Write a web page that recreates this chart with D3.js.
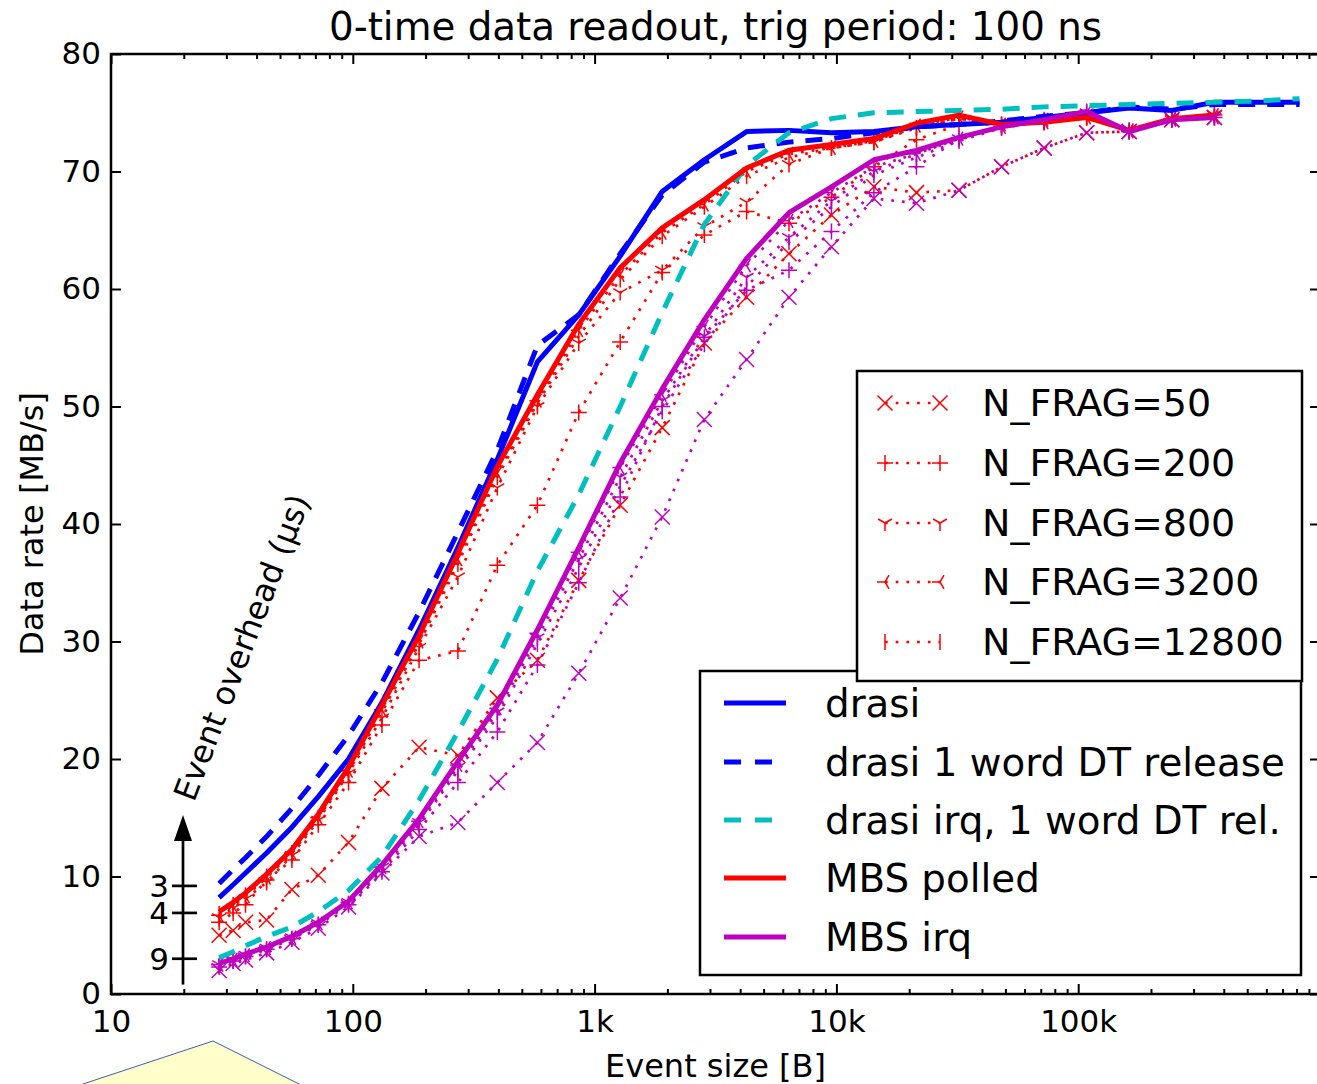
<!DOCTYPE html>
<html><head><meta charset="utf-8">
<script src="https://cdn.jsdelivr.net/npm/d3@7"></script>
<style>body{margin:0;background:#fff}</style>
</head><body><svg id="c" width="1317" height="1084"></svg>
<script>
// ---------------- data ----------------
const eventSize = [28, 32, 36, 44, 56, 72, 96, 132, 188, 272, 396, 580, 860, 1276, 1904, 2844, 4252, 6368, 9540, 14296, 21432, 32136, 48192, 72276, 108404, 162592, 243876, 365804];
const eventSizeDrasi = [28, 32, 36, 44, 56, 72, 96, 132, 188, 272, 396, 580, 860, 1276, 1904, 2844, 4252, 6368, 9540, 14296, 21432, 32136, 48192, 72276, 108404, 162592, 243876, 365804, 548700, 823000];

const drasi       = [8.2, 9.3, 10.3, 12.0, 14.2, 16.8, 20.0, 24.8, 31.0, 38.0, 45.5, 53.8, 57.8, 62.8, 68.3, 71.0, 73.4, 73.5, 73.3, 73.4, 73.8, 74.0, 74.2, 74.6, 75.0, 75.4, 75.2, 75.9, 75.9, 75.9];
const drasiDT     = [9.4, 10.6, 11.6, 13.4, 15.8, 18.6, 22.0, 26.5, 32.5, 39.3, 46.3, 55.2, 57.8, 63.0, 68.0, 70.8, 72.0, 72.5, 72.8, 73.3, 73.8, 74.0, 74.3, 74.7, 75.0, 75.5, 75.3, 75.7, 75.7, 75.7];
const drasiIrqDT  = [3.1, 3.6, 4.1, 4.9, 5.7, 7.0, 8.8, 11.7, 16.5, 22.3, 28.5, 36.0, 42.5, 50.0, 58.0, 65.5, 70.5, 73.3, 74.5, 75.0, 75.1, 75.2, 75.3, 75.5, 75.6, 75.7, 75.8, 75.9, 76.0, 76.2];
const mbsPolled   = [7.0, 7.8, 8.6, 10.2, 12.3, 15.3, 19.3, 24.6, 30.5, 37.5, 44.9, 51.0, 57.0, 61.8, 65.2, 67.6, 70.3, 71.8, 72.3, 72.8, 74.1, 74.8, 74.0, 74.2, 74.6, 73.5, 74.5, 74.8];
const mbsIrq      = [2.6, 3.0, 3.4, 4.0, 4.9, 6.1, 7.9, 11.0, 14.9, 19.8, 24.6, 31.0, 38.0, 45.2, 51.5, 57.4, 62.6, 66.5, 68.7, 71.0, 71.8, 72.9, 73.8, 74.4, 75.1, 73.4, 74.4, 74.6];

// MBS polled with N_FRAG (red dotted)
const polledN50    = [5.0, 5.4, 6.1, 6.3, 8.9, 10.1, 12.9, 17.5, 21.0, 20.3, 25.2, 28.4, 35.2, 41.6, 48.2, 55.4, 59.3, 63.0, 66.3, 68.7, 68.2, 68.4, 70.4, 72.0, 73.3, 73.4, 74.4, 74.6];
const polledN200   = [6.1, 6.9, 7.6, 9.7, 11.4, 14.4, 18.0, 22.9, 28.4, 29.2, 36.5, 41.6, 49.5, 55.5, 61.4, 64.6, 66.6, 65.6, 67.8, 70.4, 72.7, 74.0, 74.0, 74.2, 74.6, 73.5, 74.5, 74.8];
const polledN800   = [6.5, 7.3, 8.1, 9.5, 11.8, 14.8, 18.8, 23.5, 29.5, 35.5, 43.1, 50.0, 55.4, 59.7, 61.6, 65.3, 67.4, 70.6, 72.0, 72.5, 73.8, 74.5, 74.0, 74.2, 74.6, 73.5, 74.5, 74.8];
const polledN3200  = [6.7, 7.5, 8.3, 9.9, 12.0, 15.0, 19.0, 24.2, 30.0, 37.0, 44.3, 50.5, 56.5, 61.2, 64.8, 67.2, 70.0, 71.5, 72.0, 72.6, 73.9, 74.6, 74.0, 74.2, 74.6, 73.5, 74.5, 74.8];
const polledN12800 = [6.8, 7.6, 8.4, 10.0, 12.0, 15.0, 18.9, 24.0, 29.8, 36.6, 44.0, 50.3, 56.0, 60.8, 64.5, 67.0, 69.6, 71.2, 72.0, 72.5, 73.7, 74.5, 74.0, 74.2, 74.6, 73.5, 74.5, 74.8];

// MBS irq with N_FRAG (magenta dotted)
const irqN50    = [2.0, 2.6, 2.9, 3.5, 4.4, 5.6, 7.4, 10.3, 13.4, 14.6, 18.0, 21.4, 27.3, 33.7, 40.6, 48.9, 54.0, 59.3, 63.6, 67.7, 67.3, 68.4, 70.4, 72.0, 73.3, 73.4, 74.4, 74.6];
const irqN200   = [2.3, 2.8, 3.2, 3.8, 4.7, 5.9, 7.6, 10.4, 14.0, 18.0, 22.3, 28.0, 35.0, 42.3, 50.0, 55.9, 59.9, 61.6, 64.9, 68.2, 70.4, 72.8, 73.8, 74.4, 75.1, 73.4, 74.4, 74.6];
const irqN800   = [2.5, 2.9, 3.3, 3.9, 4.8, 6.0, 7.8, 10.8, 14.6, 19.3, 24.0, 30.3, 37.0, 44.0, 50.5, 56.0, 61.0, 64.4, 67.5, 70.0, 71.5, 72.8, 73.8, 74.4, 75.0, 73.4, 74.4, 74.6];
const irqN3200  = [2.5, 2.9, 3.3, 3.9, 4.8, 6.0, 7.8, 10.8, 14.7, 19.5, 24.3, 30.7, 37.6, 44.8, 51.0, 56.8, 62.0, 65.8, 68.2, 70.4, 71.5, 72.8, 73.8, 74.4, 75.0, 73.4, 74.4, 74.6];
const irqN12800 = [2.4, 2.8, 3.2, 3.8, 4.7, 5.9, 7.7, 10.6, 14.4, 19.0, 23.6, 29.8, 36.3, 43.2, 49.6, 55.3, 60.2, 64.0, 67.0, 69.7, 71.2, 72.6, 73.7, 74.3, 75.0, 73.4, 74.4, 74.6];

const fragLabels  = ["N_FRAG=50", "N_FRAG=200", "N_FRAG=800", "N_FRAG=3200", "N_FRAG=12800"];
const fragMarkers = ["x", "plus", "tri_down", "tri_left", "vline"];
const mainLabels  = ["drasi", "drasi 1 word DT release", "drasi irq, 1 word DT rel.", "MBS polled", "MBS irq"];

const xTickValues = [10, 100, 1000, 10000, 100000];
const xTickLabels = ["10", "100", "1k", "10k", "100k"];
const yTickValues = [0, 10, 20, 30, 40, 50, 60, 70, 80];
const overheadTicks = [3, 4, 9];
const overheadTickRates = [9.2, 6.9, 3.0];

const titleText = "0-time data readout, trig period: 100 ns";
const xLabelText = "Event size [B]";
const yLabelText = "Data rate [MB/s]";

// ---------------- drawing ----------------
const FONT = "DejaVu Sans";
const C = {blue:"#0000ff", cyan:"#00bfbf", red:"#ff0000", mag:"#bf00bf"};
const svg = d3.select("#c").style("font-family", FONT);
svg.append("rect").attr("width",1317).attr("height",1084).attr("fill","#fff");

const L = 111, R = 1320, T = 54, B = 994;
const x = d3.scaleLog().domain([10, 1e6]).range([L, R]);
const y = d3.scaleLinear().domain([0, 80]).range([B, T]);

svg.append("defs").append("clipPath").attr("id","clip")
  .append("rect").attr("x",L).attr("y",T).attr("width",R-L).attr("height",B-T);
const plot = svg.append("g").attr("clip-path","url(#clip)");

const line = d3.line().x(d => x(d[0])).y(d => y(d[1]));
const zip = (xs, ys) => ys.map((v,i) => [xs[i], v]);

function markerPath(type){
  const r = 8, h = 7.5;
  switch(type){
    case "x": return `M${-h},${-h}L${h},${h}M${-h},${h}L${h},${-h}`;
    case "plus": return `M${-r},0H${r}M0,${-r}V${r}`;
    case "tri_down": return `M0,0V${r}M0,0L${-0.866*r},${-0.5*r}M0,0L${0.866*r},${-0.5*r}`;
    case "tri_left": return `M0,0H${-r}M0,0L${0.5*r},${-0.866*r}M0,0L${0.5*r},${0.866*r}`;
    case "vline": return `M0,${-r}V${r}`;
  }
}

const polledFrag = [polledN50, polledN200, polledN800, polledN3200, polledN12800];
const irqFrag = [irqN50, irqN200, irqN800, irqN3200, irqN12800];

function dotted(g, data, color, marker){
  g.append("path").datum(data).attr("d", line).attr("fill","none")
    .attr("stroke", color).attr("stroke-width", 2.7).attr("stroke-dasharray","2.7,8");
  g.selectAll(null).data(data).enter().append("path")
    .attr("transform", d => `translate(${x(d[0])},${y(d[1])})`)
    .attr("d", markerPath(marker)).attr("fill","none")
    .attr("stroke", color).attr("stroke-width", 1.5);
}

for (let k = 0; k < 5; k++){
  dotted(plot, zip(eventSize, polledFrag[k]), C.red, fragMarkers[k]);
  dotted(plot, zip(eventSize, irqFrag[k]), C.mag, fragMarkers[k]);
}

const mains = [
  {data: zip(eventSizeDrasi, drasi), color: C.blue, dash: null},
  {data: zip(eventSizeDrasi, drasiDT), color: C.blue, dash: "17,12"},
  {data: zip(eventSizeDrasi, drasiIrqDT), color: C.cyan, dash: "17,12"},
  {data: zip(eventSize, mbsPolled), color: C.red, dash: null},
  {data: zip(eventSize, mbsIrq), color: C.mag, dash: null}
];
mains.forEach(s => {
  plot.append("path").datum(s.data).attr("d", line).attr("fill","none")
    .attr("stroke", s.color).attr("stroke-width", 5)
    .attr("stroke-linejoin","round")
    .attr("stroke-dasharray", s.dash);
});

// ---------------- axes ----------------
const minorTicks = x.ticks().filter(v => Math.abs(Math.log10(v) - Math.round(Math.log10(v))) > 1e-6);

function styleAxis(g){
  g.select(".domain").remove();
  g.selectAll("line").attr("stroke","#000").attr("stroke-width",2);
  g.selectAll("text").attr("font-family",FONT).attr("font-size",31).attr("fill","#000");
}
svg.append("g").attr("transform",`translate(0,${B})`)
  .call(d3.axisBottom(x).tickValues(xTickValues).tickFormat((d,i)=>xTickLabels[i]).tickSize(-10).tickPadding(16)).call(styleAxis);
svg.append("g").attr("transform",`translate(0,${B})`)
  .call(d3.axisBottom(x).tickValues(minorTicks).tickFormat("").tickSize(-5)).call(styleAxis);
svg.append("g").attr("transform",`translate(0,${T})`)
  .call(d3.axisTop(x).tickValues(xTickValues).tickFormat("").tickSize(-10)).call(styleAxis);
svg.append("g").attr("transform",`translate(0,${T})`)
  .call(d3.axisTop(x).tickValues(minorTicks).tickFormat("").tickSize(-5)).call(styleAxis);
svg.append("g").attr("transform",`translate(${L},0)`)
  .call(d3.axisLeft(y).tickValues(yTickValues).tickFormat(d3.format("d")).tickSize(-10).tickPadding(10)).call(styleAxis);
svg.append("g").attr("transform",`translate(${R},0)`)
  .call(d3.axisRight(y).tickValues(yTickValues).tickFormat("").tickSize(-10)).call(styleAxis);

svg.append("rect").attr("x",L).attr("y",T).attr("width",R-L).attr("height",B-T)
  .attr("fill","none").attr("stroke","#000").attr("stroke-width",2.5);

// titles
svg.append("text").attr("x",(L+R)/2).attr("y",40).attr("text-anchor","middle")
  .attr("font-size",38.8).text(titleText);
svg.append("text").attr("x",(L+R)/2).attr("y",1077).attr("text-anchor","middle")
  .attr("font-size",32).text(xLabelText);
svg.append("text").attr("transform",`translate(43,${(T+B)/2}) rotate(-90)`).attr("text-anchor","middle")
  .attr("font-size",32).text(yLabelText);

// event overhead annotation
const ax = 183;
const ann = svg.append("g");
ann.append("line").attr("x1",ax).attr("x2",ax).attr("y1",y(0.8)).attr("y2",838)
  .attr("stroke","#000").attr("stroke-width",2.7);
ann.append("path").attr("d",`M${ax},815L${ax-9},841L${ax+9},841Z`).attr("fill","#000");
overheadTicks.forEach((t,i) => {
  const yy = y(overheadTickRates[i]);
  ann.append("line").attr("x1",ax-11).attr("x2",ax+14).attr("y1",yy).attr("y2",yy)
    .attr("stroke","#000").attr("stroke-width",2.7);
  ann.append("text").attr("x",169).attr("y",yy+11).attr("text-anchor","end")
    .attr("font-size",31).text(t);
});
ann.append("text").attr("transform","translate(194,803) rotate(-69)")
  .attr("font-size",32).text("Event overhead (μs)");

// yellow callout fragment
svg.append("path").attr("d","M80,1085L213,1041L301,1085")
  .attr("fill","#ffffcc").attr("stroke","#3a5fb0").attr("stroke-width",1);

// ---------------- legend 2 (main lines) ----------------
const lg2 = svg.append("g");
lg2.append("rect").attr("x",700).attr("y",671).attr("width",601).attr("height",304)
  .attr("fill","#fff").attr("stroke","#000").attr("stroke-width",2.5);
const lg2Rows = [703, 762, 820, 878, 937];
mains.forEach((s,i) => {
  lg2.append("line").attr("x1",724).attr("x2",786).attr("y1",lg2Rows[i]).attr("y2",lg2Rows[i])
    .attr("stroke",s.color).attr("stroke-width",5).attr("stroke-dasharray", s.dash ? "17,14" : null);
  lg2.append("text").attr("x",825).attr("y",lg2Rows[i]+14).attr("font-size",38.8).text(mainLabels[i]);
});

// ---------------- legend 1 (N_FRAG) ----------------
const lg1 = svg.append("g");
lg1.append("rect").attr("x",857).attr("y",371).attr("width",445).attr("height",310)
  .attr("fill","#fff").attr("stroke","#000").attr("stroke-width",2.5);
const lg1Rows = [403, 463, 523, 582, 642];
fragLabels.forEach((lab,i) => {
  const yy = lg1Rows[i];
  lg1.append("line").attr("x1",885).attr("x2",940).attr("y1",yy).attr("y2",yy)
    .attr("stroke",C.red).attr("stroke-width",2.7).attr("stroke-dasharray","2.7,8");
  [885, 940].forEach(mx => lg1.append("path").attr("transform",`translate(${mx},${yy})`)
    .attr("d", markerPath(fragMarkers[i])).attr("fill","none").attr("stroke",C.red).attr("stroke-width",1.5));
  lg1.append("text").attr("x",982).attr("y",yy+13).attr("font-size",38).text(lab);
});
</script>
</body></html>
